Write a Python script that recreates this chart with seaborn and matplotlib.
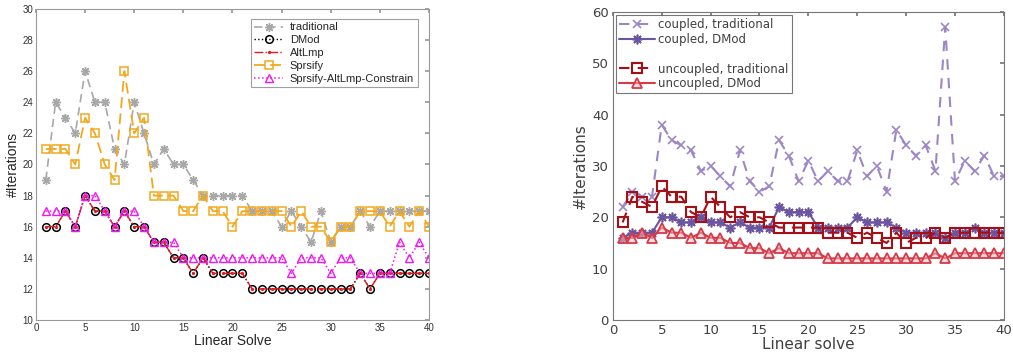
import matplotlib
matplotlib.use("Agg")
import matplotlib.pyplot as plt
import seaborn as sns
import numpy as np
from matplotlib.lines import Line2D

# --- data ---
solves = list(range(1, 41))

# left panel
traditional = [19, 24, 23, 22, 26, 24, 24, 21, 20, 24, 22, 20, 21, 20, 20, 19, 18, 18, 18, 18,
               18, 17, 17, 17, 16, 17, 16, 15, 17, 15, 16, 16, 17, 16, 17, 17, 17, 17, 17, 17]
dmod = [16, 16, 17, 16, 18, 17, 17, 16, 17, 16, 16, 15, 15, 14, 14, 13, 14, 13, 13, 13,
        13, 12, 12, 12, 12, 12, 12, 12, 12, 12, 12, 12, 13, 12, 13, 13, 13, 13, 13, 13]
altlmp = [16, 16, 17, 16, 18, 17, 17, 16, 17, 16, 16, 15, 15, 14, 14, 13, 14, 13, 13, 13,
          13, 12, 12, 12, 12, 12, 12, 12, 12, 12, 12, 12, 13, 12, 13, 13, 13, 13, 13, 13]
sprsify = [21, 21, 21, 20, 23, 22, 20, 19, 26, 22, 23, 18, 18, 18, 17, 17, 18, 17, 17, 16,
           17, 17, 17, 17, 17, 16, 17, 16, 16, 15, 16, 16, 17, 17, 17, 16, 17, 16, 17, 16]
sprsify_constr = [17, 17, 17, 16, 18, 18, 17, 16, 17, 17, 16, 15, 15, 15, 14, 14, 14, 14, 14, 14,
                  14, 14, 14, 14, 14, 13, 14, 14, 14, 13, 14, 14, 13, 13, 13, 13, 15, 14, 15, 14]

# right panel
coupled_trad = [22, 25, 24, 24, 38, 35, 34, 33, 29, 30, 28, 26, 33, 27, 25, 26, 35, 32, 27, 31,
                27, 29, 27, 27, 33, 28, 30, 25, 37, 34, 32, 34, 29, 57, 27, 31, 29, 32, 28, 28]
coupled_dmod = [16, 17, 17, 17, 20, 20, 19, 19, 20, 19, 19, 18, 19, 18, 18, 18, 22, 21, 21, 21,
                18, 18, 18, 18, 20, 19, 19, 19, 18, 17, 17, 17, 17, 16, 17, 17, 18, 17, 17, 17]
uncoupled_trad = traditional
uncoupled_dmod = dmod

# --- styling ---
sns.set_theme(style="white")
plt.rcParams["font.family"] = ["Liberation Sans", "DejaVu Sans"]

fig = plt.figure(figsize=(10.13, 3.56), dpi=100)
ax1 = fig.add_axes([0.0355, 0.101, 0.388, 0.874])
ax2 = fig.add_axes([0.605, 0.101, 0.386, 0.866])

asterisk = (8, 2, 0)  # MATLAB-like line asterisk


def draw(ax, y, label, color, marker, ls, ms, lw=1.0, mew=1.0, mfc="none", dashes=None, z=2):
    sns.lineplot(x=solves, y=y, ax=ax, color=color, marker=marker, linestyle=ls,
                 markersize=ms, linewidth=lw, markeredgecolor=color,
                 markeredgewidth=mew, markerfacecolor=mfc, label=label, zorder=z)
    ln = ax.get_lines()[-1]
    if dashes is not None:
        ln.set_dashes(dashes)


# left panel
draw(ax1, traditional, "traditional", "#a8a8a8", asterisk, "--", 6.5, lw=1.2, mew=1.0,
     dashes=(5, 3))
draw(ax1, dmod, "DMod", "black", "o", ":", 5.5, lw=1.0, mew=1.1)
draw(ax1, altlmp, "AltLmp", "#e8191b", ".", "-.", 3, lw=1.0, mew=0.8, mfc="#e8191b")
draw(ax1, sprsify, "Sprsify", "#f2a81d", "s", "--", 5.5, lw=1.3, mew=1.1, dashes=(6, 3))
draw(ax1, sprsify_constr, "Sprsify-AltLmp-Constrain", "#f018f0", "^", ":", 6, lw=1.1, mew=1.0)

ax1.set_xlim(0, 40)
ax1.set_ylim(10, 30)
ax1.set_xticks(np.arange(0, 41, 5))
ax1.set_yticks(np.arange(10, 31, 2))
ax1.set_xlabel("Linear Solve", fontsize=10, labelpad=1, color="#262626")
ax1.set_ylabel("#Iterations", fontsize=10, labelpad=2, color="#262626")
ax1.tick_params(direction="in", length=3, labelsize=7, top=True, right=True,
                color="#999999", labelcolor="#333333", pad=2)
for s in ax1.spines.values():
    s.set_color("#999999")
    s.set_linewidth(0.8)
leg1 = ax1.legend(loc="upper right", fontsize=8, frameon=True, fancybox=False,
                  edgecolor="#888888", handlelength=2.6, borderpad=0.3,
                  labelspacing=0.25, handletextpad=0.6, bbox_to_anchor=(0.985, 0.985))
leg1.get_frame().set_linewidth(0.8)

# right panel
grey = "#404040"
draw(ax2, coupled_trad, "coupled, traditional", "#9d86c6", "x", "--", 6, lw=1.5, mew=1.2,
     dashes=(5, 4))
draw(ax2, coupled_dmod, "coupled, DMod", "#6b54a0", asterisk, "-", 7, lw=1.5, mew=1.2)
draw(ax2, uncoupled_trad, "uncoupled, traditional", "#a50f15", "s", "--", 6.5, lw=1.5, mew=1.5,
     dashes=(5, 4))
draw(ax2, uncoupled_dmod, "uncoupled, DMod", "#d63a47", "^", "-", 7.5, lw=1.5, mew=1.3,
     mfc=(0.95, 0.75, 0.78, 0.5))

ax2.set_xlim(0, 40)
ax2.set_ylim(0, 60)
ax2.set_xticks(np.arange(0, 41, 5))
ax2.set_yticks(np.arange(0, 61, 10))
ax2.set_xlabel("Linear solve", fontsize=11, color=grey, labelpad=0, family="DejaVu Sans")
ax2.set_ylabel("#Iterations", fontsize=11, color=grey, labelpad=3, family="DejaVu Sans")
ax2.tick_params(direction="in", length=3, labelsize=9.5, top=True, right=True,
                color="#777777", labelcolor=grey, pad=3)
for lab in ax2.get_xticklabels() + ax2.get_yticklabels():
    lab.set_family("DejaVu Sans")
for s in ax2.spines.values():
    s.set_color("#777777")
    s.set_linewidth(0.8)

h, l = ax2.get_legend_handles_labels()
blank = Line2D([], [], color="none")
h = h[:2] + [blank] + h[2:]
l = l[:2] + [" "] + l[2:]
leg2 = ax2.legend(h, l, loc="upper left", frameon=True, fancybox=False,
                  edgecolor="#555555", handlelength=3.0, borderpad=0.25,
                  labelspacing=0.15, handletextpad=0.3, borderaxespad=0.3,
                  prop={"family": "DejaVu Sans", "size": 8.5})
leg2.get_frame().set_linewidth(0.8)
for t in leg2.get_texts():
    t.set_color(grey)

fig.savefig("out.png", dpi=100)
